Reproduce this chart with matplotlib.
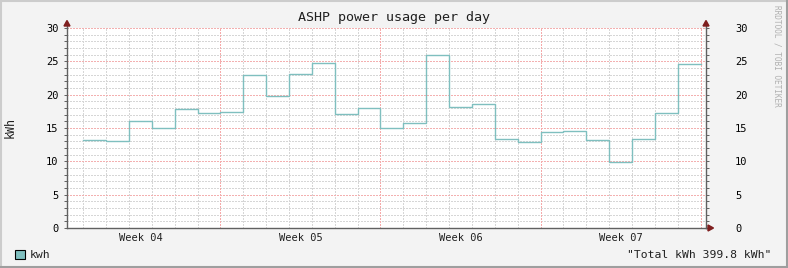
import matplotlib
matplotlib.use("Agg")
import matplotlib.pyplot as plt
from matplotlib.patches import Rectangle, Polygon
from matplotlib.transforms import blended_transform_factory
import numpy as np

# daily kWh values, one per day
kwh = [13.15, 13.0, 16.0, 15.0, 17.85, 17.2, 17.35,
       23.0, 19.8, 23.05, 24.75, 17.05, 17.95, 15.0,
       15.7, 25.9, 18.1, 18.55, 13.3, 12.9, 14.35,
       14.5, 13.15, 9.85, 13.3, 17.2, 24.55]
week_labels = ["Week 04", "Week 05", "Week 06", "Week 07"]
week_ends = [6, 13, 20, 27]          # day index where each week ends
y_major = [0, 5, 10, 15, 20, 25, 30]
total_text = '"Total kWh 399.8 kWh"'

W, H = 788, 268
bg = "#f3f3f3"
line_c = "#7fbfbf"
axis_c = "#606060"
arrow_c = "#7f1f1f"
mono = "DejaVu Sans Mono"

fig = plt.figure(figsize=(W / 100, H / 100), dpi=100, facecolor=bg)

# plot area in pixels
L, R, T, B = 67, 706, 28, 228
ax = fig.add_axes([L / W, (H - B) / H, (R - L) / W, (B - T) / H])
ax.set_facecolor("white")

days = np.arange(len(kwh) + 1)
vals = kwh + [kwh[-1]]
ax.set_xlim(-0.714, 27.24)
ax.set_ylim(0, 30)

# grid, crisp 1px dots
dot = (0, (1.4, 1.4))
gkw = dict(lw=0.72, ls=dot, antialiased=False)
for d in range(0, 28):
    if d not in week_ends:
        ax.axvline(d, color="#d6d6d6", zorder=1, **gkw)
for v in range(0, 31):
    if v % 5:
        ax.axhline(v, color="#d6d6d6", zorder=1, **gkw)
for d in week_ends:
    ax.axvline(d, color="#f5aaaa", zorder=2, **gkw)
for v in y_major[1:]:
    ax.axhline(v, color="#f3b0b0", zorder=2, **gkw)

ax.step(days, vals, where="post", color=line_c, lw=1.0, zorder=3)

ax.spines["top"].set_visible(False)
for s in ["left", "right", "bottom"]:
    ax.spines[s].set_color(axis_c)
    ax.spines[s].set_linewidth(1.0)

ax.set_xticks([])
ax.set_yticks(y_major)
ax.set_yticks(range(0, 31), minor=True)
ax.tick_params(axis="y", which="both", direction="out", length=2,
               color=axis_c, width=0.7, labelsize=7.5, pad=4)
for lab in ax.get_yticklabels():
    lab.set_fontfamily(mono)

ax2 = ax.twinx()
ax2.set_ylim(0, 30)
ax2.set_yticks(y_major)
ax2.set_yticks(range(0, 31), minor=True)
ax2.tick_params(axis="y", which="both", direction="out", length=2,
                color=axis_c, width=0.7, labelsize=7.5, pad=19)
for lab in ax2.get_yticklabels():
    lab.set_fontfamily(mono)
    lab.set_horizontalalignment("left")
for s in ax2.spines.values():
    s.set_visible(False)

# week labels centred under each week
tr = blended_transform_factory(ax.transData, ax.transAxes)
for lbl, end in zip(week_labels, week_ends):
    ax.text(end - 3.5, -0.048, lbl, transform=tr, ha="center", va="center",
            fontsize=7.5, family=mono, color="#202020")

# arrows (pixel coords)
def px(x, y):
    return (x / W, 1 - y / H)

for x, y in [(67, 20.5), (706, 20.5)]:
    fig.patches.append(Polygon([px(x, y), px(x - 3, y + 5.5), px(x + 3, y + 5.5)],
                               closed=True, transform=fig.transFigure,
                               color=arrow_c, zorder=5))
fig.patches.append(Polygon([px(713.5, 228), px(708, 225), px(708, 231)],
                           closed=True, transform=fig.transFigure,
                           color=arrow_c, zorder=5))
# axis extensions up to arrows and right
fig.add_artist(plt.Line2D([67 / W, 67 / W], [1 - 28 / H, 1 - 24 / H],
                          color=axis_c, lw=1.0))
fig.add_artist(plt.Line2D([706 / W, 706 / W], [1 - 28 / H, 1 - 24 / H],
                          color=axis_c, lw=1.0))
fig.add_artist(plt.Line2D([706 / W, 709 / W], [1 - 228 / H, 1 - 228 / H],
                          color=axis_c, lw=1.0))

# texts
fig.text(394 / W, 1 - 18 / H, "ASHP power usage per day", ha="center",
         va="center", fontsize=9.6, family=mono, color="#202020")
fig.text(10 / W, 1 - 128 / H, "kWh", rotation=90, ha="center", va="center",
         fontsize=8.4, family=mono, color="#202020")
fig.text(777 / W, 1 - 5 / H, "RRDTOOL / TOBI OETIKER", rotation=270,
         ha="center", va="top", fontsize=5.6, family=mono, color="#b0b0b0")

fig.patches.append(Rectangle(px(15, 259), 10 / W, 9.5 / H, transform=fig.transFigure,
                             facecolor=line_c, edgecolor="black", lw=0.8))
fig.text(30 / W, 1 - 254.5 / H, "kwh", ha="left", va="center",
         fontsize=8.2, family=mono, color="#202020")
fig.text(771 / W, 1 - 254.5 / H, total_text, ha="right", va="center",
         fontsize=8.2, family=mono, color="#202020")

# outer frame
fig.add_artist(plt.Line2D([0, 1], [1 - 1 / H, 1 - 1 / H], color="#cccccc", lw=1.5))
fig.add_artist(plt.Line2D([1 / W, 1 / W], [0, 1], color="#cccccc", lw=1.5))
fig.add_artist(plt.Line2D([0, 1], [1.2 / H, 1.2 / H], color="#9e9e9e", lw=1.5))
fig.add_artist(plt.Line2D([1 - 1.2 / W, 1 - 1.2 / W], [0, 1], color="#9e9e9e", lw=1.5))

fig.savefig("out.png", dpi=100, facecolor=bg)
